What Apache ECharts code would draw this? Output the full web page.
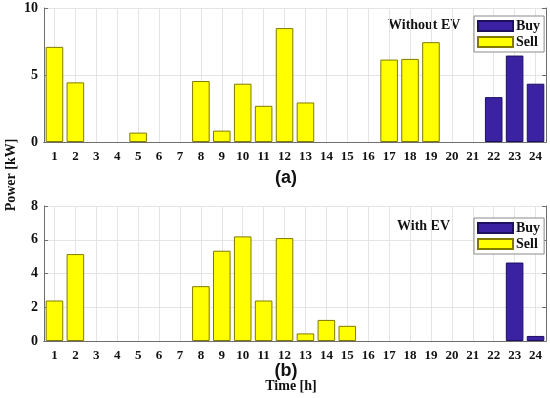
<!DOCTYPE html>
<html>
<head>
<meta charset="utf-8">
<script src="https://cdn.jsdelivr.net/npm/echarts@6/dist/echarts.min.js"></script>
<style>
html,body{margin:0;padding:0;background:#fff;}
#c{width:550px;height:398px;}
</style>
</head>
<body>
<div id="c"></div>
<script>
var hours = ['1','2','3','4','5','6','7','8','9','10','11','12','13','14','15','16','17','18','19','20','21','22','23','24'];
var sellNoEV = [7.1,4.45,null,null,0.7,null,null,4.55,0.85,4.35,2.7,8.5,2.95,null,null,null,6.15,6.2,7.45,null,null,null,null,null];
var buyNoEV  = [null,null,null,null,null,null,null,null,null,null,null,null,null,null,null,null,null,null,null,null,null,3.35,6.45,4.35];
var sellEV   = [2.4,5.15,null,null,null,null,null,3.25,5.35,6.2,2.4,6.1,0.45,1.25,0.9,null,null,null,null,null,null,null,null,null];
var buyEV    = [null,null,null,null,null,null,null,null,null,null,null,null,null,null,null,null,null,null,null,null,null,null,4.65,0.3];
var yTicksA = {min:0, max:10, interval:5};
var yTicksB = {min:0, max:8, interval:2};

var serif = "'Liberation Serif','Times New Roman',serif";
var sans = "'Liberation Sans',Arial,sans-serif";
var axisCol = '#6e6e6e';
var gridCol = '#e4e4e4';
var sellColor = '#ffff00', sellBorder = '#807a00';
var buyColor = '#3a22a2', buyBorder = '#1d1060';

var grids = [
  {left:44, right:4, top:8, height:134},
  {left:44, right:4, top:206, height:135}
];

function xAxes(gi){
  return [{
    type:'category', gridIndex:gi, data:hours, position:'bottom',
    axisLine:{lineStyle:{color:axisCol,width:1}},
    axisTick:{inside:true, alignWithLabel:true, length:4, lineStyle:{color:axisCol}},
    axisLabel:{color:'#111', fontFamily:serif, fontWeight:'bold', fontSize:13, margin:8},
    splitLine:{show:true, alignWithLabel:true, lineStyle:{color:gridCol,width:1}}
  },{
    type:'category', gridIndex:gi, data:hours, position:'top',
    axisLine:{lineStyle:{color:axisCol,width:1}},
    axisTick:{inside:true, alignWithLabel:true, length:4, lineStyle:{color:axisCol}},
    axisLabel:{show:false}, splitLine:{show:false}
  }];
}
function yAxes(gi, t){
  return [{
    type:'value', gridIndex:gi, position:'left', min:t.min, max:t.max, interval:t.interval,
    axisLine:{show:true, lineStyle:{color:axisCol,width:1}},
    axisTick:{show:true, inside:true, length:4, lineStyle:{color:axisCol}},
    axisLabel:{color:'#111', fontFamily:serif, fontWeight:'bold', fontSize:14, margin:6},
    splitLine:{show:true, lineStyle:{color:gridCol,width:1}}
  },{
    type:'value', gridIndex:gi, position:'right', min:t.min, max:t.max, interval:t.interval,
    axisLine:{show:true, lineStyle:{color:axisCol,width:1}},
    axisTick:{show:true, inside:true, length:4, lineStyle:{color:axisCol}},
    axisLabel:{show:false}, splitLine:{show:false}
  }];
}
function bars(gi, buy, sell){
  return [{
    name:'Buy', type:'bar', xAxisIndex:gi*2, yAxisIndex:gi*2, stack:'s'+gi, data:buy,
    barWidth:'84%', itemStyle:{color:buyColor, borderColor:buyBorder, borderWidth:1}
  },{
    name:'Sell', type:'bar', xAxisIndex:gi*2, yAxisIndex:gi*2, stack:'s'+gi, data:sell,
    barWidth:'84%', itemStyle:{color:sellColor, borderColor:sellBorder, borderWidth:1}
  }];
}
function legend(top){
  return {
    data:['Buy','Sell'], orient:'vertical', left:474, top:top,
    itemWidth:35, itemHeight:10, itemGap:2, padding:[3,4,3,3],
    backgroundColor:'#fff', borderColor:'#8a8a8a', borderWidth:1,
    icon:'rect',
    textStyle:{fontFamily:serif, fontWeight:'bold', fontSize:14, color:'#111', padding:[0,0,0,-2]}
  };
}

var chart = echarts.init(document.getElementById('c'), null, {renderer:'canvas'});
chart.setOption({
  animation:false,
  backgroundColor:'#fff',
  grid:grids,
  xAxis: xAxes(0).concat(xAxes(1)),
  yAxis: yAxes(0, yTicksA).concat(yAxes(1, yTicksB)),
  legend:[legend(16), legend(218)],
  series: bars(0, buyNoEV, sellNoEV).concat(bars(1, buyEV, sellEV)),
  graphic:[
    {type:'text', left:388, top:18, style:{text:'Without EV', font:"bold 14px "+serif, fill:'#111'}},
    {type:'text', left:397, top:219, style:{text:'With EV', font:"bold 14px "+serif, fill:'#111'}},
    {type:'text', x:286, y:178, style:{text:'(a)', font:"bold 18px "+sans, fill:'#111', align:'center', verticalAlign:'middle'}},
    {type:'text', x:286, y:371, style:{text:'(b)', font:"bold 18px "+sans, fill:'#111', align:'center', verticalAlign:'middle'}},
    {type:'text', x:291, y:386, style:{text:'Time [h]', font:"bold 14px "+serif, fill:'#111', align:'center', verticalAlign:'middle'}},
    {type:'text', x:11, y:175, rotation:Math.PI/2, style:{text:'Power [kW]', font:"bold 14px "+serif, fill:'#111', align:'center', verticalAlign:'middle'}}
  ]
});
</script>
</body>
</html>
